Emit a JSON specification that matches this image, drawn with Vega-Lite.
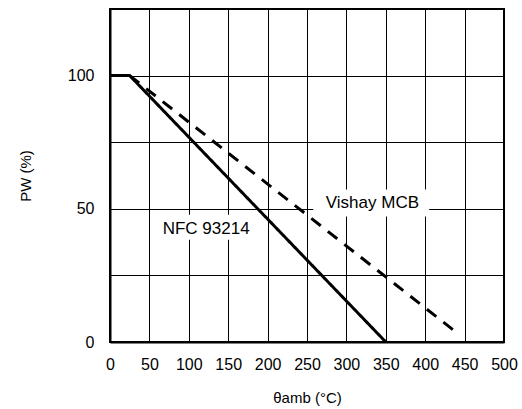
{
  "$schema": "https://vega.github.io/schema/vega-lite/v6.json",
  "width": 394,
  "height": 333,
  "autosize": "none",
  "padding": {"left": 110, "top": 9, "right": 18, "bottom": 67},
  "background": "white",
  "config": {
    "view": {"stroke": "black", "strokeWidth": 2},
    "font": "Liberation Sans",
    "axis": {
      "grid": true, "gridColor": "black", "gridOpacity": 1, "gridWidth": 1,
      "domain": true, "domainColor": "black", "domainWidth": 2,
      "ticks": false, "labelColor": "black", "labelFontSize": 16, "labelOverlap": false,
      "labelFlush": false,
      "titleColor": "black", "titleFontSize": 15, "titleFontWeight": "normal"
    }
  },
  "datasets": {
    "lines": [
      {"series": "NFC 93214", "t": 0, "p": 100},
      {"series": "NFC 93214", "t": 25, "p": 100},
      {"series": "NFC 93214", "t": 350, "p": 0},
      {"series": "Vishay MCB", "t": 25, "p": 100},
      {"series": "Vishay MCB", "t": 440, "p": 3.5}
    ],
    "labels": [
      {"label": "Vishay MCB", "t": 333, "p": 52.3, "t0": 258, "t1": 405, "p0": 47.1, "p1": 57.2},
      {"label": "NFC 93214", "t": 122, "p": 42.4, "t0": 60, "t1": 185, "p0": 38.4, "p1": 47.8}
    ]
  },
  "layer": [
    {
      "data": {"name": "lines"},
      "mark": {"type": "line", "strokeWidth": 3, "color": "black"},
      "encoding": {
        "x": {
          "field": "t", "type": "quantitative",
          "scale": {"domain": [0, 500], "nice": false, "zero": false},
          "axis": {
            "values": [0, 50, 100, 150, 200, 250, 300, 350, 400, 450, 500],
            "labelPadding": 14, "title": "θamb (°C)", "titlePadding": 18
          }
        },
        "y": {
          "field": "p", "type": "quantitative",
          "scale": {"domain": [0, 125], "nice": false},
          "axis": {
            "values": [0, 25, 50, 75, 100, 125],
            "labelExpr": "datum.value % 50 == 0 && datum.value < 125 ? datum.label : ''",
            "labelPadding": 16, "title": "PW (%)", "titlePadding": 34
          }
        },
        "detail": {"field": "series"},
        "strokeDash": {
          "field": "series", "type": "nominal",
          "scale": {"domain": ["NFC 93214", "Vishay MCB"], "range": [[1, 0], [12, 9]]},
          "legend": null
        }
      }
    },
    {
      "data": {"name": "labels"},
      "mark": {"type": "rect", "fill": "white"},
      "encoding": {
        "x": {
          "field": "t0", "type": "quantitative",
          "axis": {
            "values": [0, 50, 100, 150, 200, 250, 300, 350, 400, 450, 500],
            "labelPadding": 14, "title": "θamb (°C)", "titlePadding": 18
          }
        },
        "x2": {"field": "t1"},
        "y": {
          "field": "p0", "type": "quantitative",
          "axis": {
            "values": [0, 25, 50, 75, 100, 125],
            "labelExpr": "datum.value % 50 == 0 && datum.value < 125 ? datum.label : ''",
            "labelPadding": 16, "title": "PW (%)", "titlePadding": 34
          }
        },
        "y2": {"field": "p1"}
      }
    },
    {
      "data": {"name": "labels"},
      "mark": {"type": "text", "fontSize": 17, "color": "black", "align": "center", "baseline": "middle"},
      "encoding": {
        "x": {
          "field": "t", "type": "quantitative",
          "axis": {
            "values": [0, 50, 100, 150, 200, 250, 300, 350, 400, 450, 500],
            "labelPadding": 14, "title": "θamb (°C)", "titlePadding": 18
          }
        },
        "y": {
          "field": "p", "type": "quantitative",
          "axis": {
            "values": [0, 25, 50, 75, 100, 125],
            "labelExpr": "datum.value % 50 == 0 && datum.value < 125 ? datum.label : ''",
            "labelPadding": 16, "title": "PW (%)", "titlePadding": 34
          }
        },
        "text": {"field": "label"}
      }
    }
  ]
}
